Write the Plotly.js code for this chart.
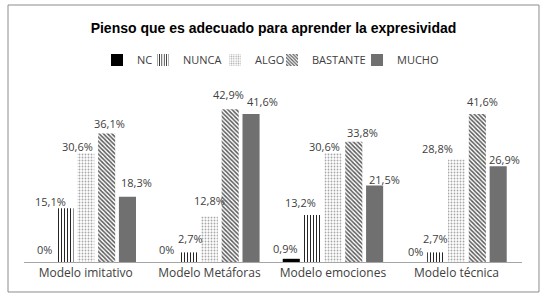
<!DOCTYPE html>
<html><head><meta charset="utf-8">
<script src="https://cdn.plot.ly/plotly-3.0.1.min.js"></script>
<style>html,body{margin:0;padding:0;background:#fff;}#chart{width:547px;height:302px;}</style>
</head><body><div id="chart"></div>
<script>
const categories = ["Modelo imitativo", "Modelo Metáforas", "Modelo emociones", "Modelo técnica"];
const seriesNames = ["NC", "NUNCA", "ALGO", "BASTANTE", "MUCHO"];
const nc = [0, 0, 0.9, 0];
const nunca = [15.1, 2.7, 13.2, 2.7];
const algo = [30.6, 12.8, 30.6, 28.8];
const bastante = [36.1, 42.9, 33.8, 41.6];
const mucho = [18.3, 41.6, 21.5, 26.9];
const values = [nc, nunca, algo, bastante, mucho];

// Label nudges (px) as placed in the original chart: horizontal from bar centre, vertical above bar top
const labelDx = [
  [1, -1, -5, 1],
  [-14, 2, -11, 0],
  [-8, 0, -8, -19],
  [3, -2, 9, 5],
  [9, 11, 10, 6]
];
const labelDy = [
  [13, 13, 10, 11],
  [7, 14, 13, 14],
  [7, 16, 7, 11],
  [10, 15, 9, 12],
  [14, 12, 6, 7]
];

const markers = [
  {color: "#000000"},
  {color: "#ffffff", pattern: {shape: "|", fgcolor: "#222222", bgcolor: "#ffffff", size: 3, solidity: 0.33}},
  {color: "#ffffff", pattern: {shape: ".", fgcolor: "#a8a8a8", bgcolor: "#ffffff", size: 3, solidity: 0.3}},
  {color: "#ffffff", pattern: {shape: "\\", fgcolor: "#5a5a5a", bgcolor: "#ffffff", size: 3, solidity: 0.5}},
  {color: "#707070"}
];

const fmt = v => String(v).replace(".", ",") + "%";

const W = 547, H = 302;
const M = {l: 24, r: 25, t: 84, b: 40};
const bargap = 0.157, bargroupgap = 0.18;
const catW = (W - M.l - M.r) / categories.length;
const pitch = catW * (1 - bargap) / seriesNames.length;

const legendIds = ["legend", "legend2", "legend3", "legend4", "legend5"];
const legendX = [0.1466, 0.239, 0.3835, 0.498, 0.6687];

const traces = seriesNames.map((name, i) => ({
  type: "bar",
  name: name,
  x: categories,
  y: values[i],
  legend: legendIds[i],
  marker: Object.assign({line: {width: 0}}, markers[i]),
  hoverinfo: "skip"
}));

const annotations = [];
seriesNames.forEach((name, i) => {
  values[i].forEach((v, j) => {
    annotations.push({
      x: categories[j], y: v, xref: "x", yref: "y",
      text: fmt(v), showarrow: false,
      xanchor: "center", yanchor: "middle",
      xshift: (i - (seriesNames.length - 1) / 2) * pitch + labelDx[i][j],
      yshift: labelDy[i][j],
      font: {family: "Open Sans, sans-serif", size: 11, color: "#404040"}
    });
  });
});

const legendBase = {orientation: "h", xanchor: "left", y: 1.135, yanchor: "middle",
  font: {family: "Open Sans, sans-serif", size: 11, color: "#404040"},
  itemwidth: 30, bgcolor: "rgba(0,0,0,0)", borderwidth: 0};

const layout = {
  width: W, height: H,
  margin: M,
  paper_bgcolor: "#ffffff", plot_bgcolor: "#ffffff",
  barmode: "group", bargap: bargap, bargroupgap: bargroupgap,
  title: {text: "<b>Pienso que es adecuado para aprender la expresividad</b>",
    font: {family: "Arial, Liberation Sans, sans-serif", size: 14, color: "#000"},
    x: 0.5, xanchor: "center", y: 0.907, yanchor: "middle"},
  showlegend: true,
  xaxis: {showline: true, linecolor: "#a6a6a6", linewidth: 1, ticks: "",
    tickfont: {family: "Open Sans, sans-serif", size: 12, color: "#404040"}, fixedrange: true},
  yaxis: {range: [0, 50], visible: false, showgrid: false, zeroline: false, fixedrange: true},
  annotations: annotations,
  shapes: [{type: "rect", xref: "paper", yref: "paper", x0: -0.0321, x1: 1.0341, y0: -0.1685, y1: 1.4438,
    line: {color: "#8c8c8c", width: 1}, fillcolor: "rgba(0,0,0,0)", layer: "below"}]
};
legendIds.forEach((id, i) => { layout[id] = Object.assign({x: legendX[i]}, legendBase); });

Plotly.newPlot("chart", traces, layout, {staticPlot: true, displayModeBar: false});
</script>
</body></html>
